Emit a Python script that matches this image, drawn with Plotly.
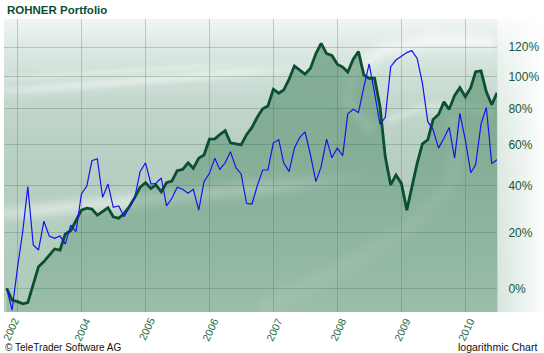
import numpy as np
import pandas as pd
import plotly.graph_objects as go

# ---------------- data ----------------
start_month = "2002-11-01"
n_months = 93
portfolio_pct = [
    0, -3.7,
    -4.2, -4.9, -4.5, 1.8, 7.4, 9.2, 11.6, 13.8, 13.4, 19.5, 20.8, 25.1,
    29.2, 30.0, 29.6, 27.1, 28.5, 30.2, 26.4, 25.8, 27.8, 30.7, 34.7, 39.2,
    41.3, 38.7, 40.3, 37.2, 41.3, 42.1, 47.0, 47.6, 50.8, 48.1, 53.1, 54.7,
    62.9, 63.1, 65.3, 67.5, 61.0, 60.4, 59.9, 65.3, 69.3, 75.0, 79.9, 81.6,
    91.8, 89.3, 91.3, 98.2, 106.9, 104.2, 101.5, 105.4, 115.5, 122.8, 115.5, 114.2,
    108.2, 106.2, 102.9, 111.5, 116.9, 100.9, 98.8, 98.8, 81.2, 53.8, 40.3, 44.9,
    41.0, 29.2, 38.7, 50.5, 60.4, 62.6, 73.7, 76.6, 84.0, 79.6, 88.0, 92.8,
    87.1, 92.8, 103.1, 103.7, 90.2, 82.3, 89.6,
]
benchmark_pct = [
    0, -6.8,
    7.0, 21.0, 39.5, 15.3, 13.4, 24.6, 18.7, 17.8, 18.7, 15.6, 23.0, 20.4,
    36.2, 39.8, 51.8, 52.8, 34.7, 40.7, 30.4, 31.0, 26.4, 30.7, 34.7, 46.5,
    50.8, 40.7, 41.0, 43.5, 31.0, 34.3, 39.2, 38.3, 36.5, 38.3, 29.2, 41.8,
    45.7, 53.1, 47.6, 50.8, 56.4, 48.4, 45.4, 32.1, 31.8, 39.8, 47.3, 47.3,
    61.0, 62.6, 50.8, 46.5, 58.2, 63.9, 66.8, 54.7, 41.8, 48.9, 62.9, 53.3,
    58.2, 54.4, 77.0, 79.6, 77.7, 93.3, 108.3, 89.3, 70.9, 75.0, 106.5, 111.0,
    113.9, 116.2, 117.6, 112.1, 95.6, 72.5, 68.1, 58.2, 63.4, 69.3, 53.1, 77.3,
    62.6, 46.0, 49.8, 71.3, 80.7, 50.5, 52.3,
]
y_tick_pct = [0, 20, 40, 60, 80, 100, 120]
y_tick_text = ["0%", "20%", "40%", "60%", "80%", "100%", "120%"]
grid_years = [2003, 2004, 2005, 2006, 2007, 2008, 2009, 2010]
x_label_text = ["2002", "2004", "2005", "2006", "2007", "2008", "2009", "2010"]

dates = pd.date_range(start_month, periods=n_months, freq="MS")
port = 1 + np.array(portfolio_pct) / 100.0
bench = 1 + np.array(benchmark_pct) / 100.0

# ---------------- decorative background ----------------
W, H = 544, 353
X0, X1, Y0, Y1 = 4, 544, 19, 312
PLOT_R = 497
nx, ny = 272, 148
u = np.linspace(0, 1, nx)
v = np.linspace(0, 1, ny)
PX = X0 + u[None, :] * (X1 - X0)
PY = Y1 - v[:, None] * (Y1 - Y0)
PX, PY = np.broadcast_arrays(PX, PY)
t = (PY - Y0) / (Y1 - Y0)
L = 0.36 + 0.56 * np.exp(-3.5 * t)


def band(xa, ya, xb, yb, sigma, strength):
    dx, dy = xb - xa, yb - ya
    ln = np.hypot(dx, dy)
    s = ((PX - xa) * dx + (PY - ya) * dy) / ln**2
    d = np.abs((PX - xa) * dy - (PY - ya) * dx) / ln
    fade = np.clip(np.minimum(s, 1 - s) * 4, 0, 1)
    return strength * np.exp(-(d / sigma) ** 2) * fade


def poly_band(pts, sigma, strength):
    pts = np.array(pts, dtype=float)
    dense = []
    for a, b in zip(pts[:-1], pts[1:]):
        for k in np.linspace(0, 1, 12, endpoint=False):
            dense.append(a + (b - a) * k)
    dense.append(pts[-1])
    dense = np.array(dense)
    dmin = np.full(PX.shape, 1e9)
    for p in dense:
        dmin = np.minimum(dmin, np.hypot(PX - p[0], PY - p[1]))
    return strength * np.exp(-(dmin / sigma) ** 2)


L = L + band(-80, 222, 380, 176, 9, 0.26)
L = L + band(-40, 94, 320, 66, 5, 0.16)
L = L + band(-40, 81, 260, 62, 3, 0.10)
L = L + poly_band([(487, 42), (430, 41), (382, 50), (350, 74), (346, 100), (368, 126)], 8, 0.14)
L = L + poly_band([(392, 118), (420, 107), (455, 104), (490, 112)], 5, 0.12)
L = L + poly_band([(268, 305), (340, 268), (408, 228), (448, 188), (458, 150), (452, 120)], 10, 0.10)
right = PX > PLOT_R
L = np.where(right, L + (1 - L) * (0.55 + 0.45 * (PX - PLOT_R) / (X1 - PLOT_R)), L)
L = np.clip(L, 0, 1)

bg_scale = [
    [0.0, "#8db59c"],
    [0.3, "#a9c8b4"],
    [0.5, "#bbd1c6"],
    [0.7, "#d6e4dd"],
    [0.9, "#eef4f1"],
    [1.0, "#ffffff"],
]

fig = go.Figure()
fig.add_trace(go.Heatmap(x=u, y=v, z=L, colorscale=bg_scale, zmin=0, zmax=1,
                         showscale=False, hoverinfo="skip", zsmooth="best",
                         xaxis="x", yaxis="y"))

# baseline for area fill (below visible range)
fig.add_trace(go.Scatter(x=dates, y=np.full(n_months, 0.8), mode="lines",
                         line=dict(width=0), showlegend=False, hoverinfo="skip",
                         xaxis="x2", yaxis="y2"))
fig.add_trace(go.Scatter(x=dates, y=port, mode="lines", fill="tonexty",
                         fillgradient=dict(type="vertical",
                                           colorscale=[[0, "rgba(35,110,65,0.10)"],
                                                       [1, "rgba(35,110,65,0.48)"]]),
                         line=dict(color="#0b4f33", width=2.8),
                         name="ROHNER Portfolio", showlegend=False,
                         xaxis="x2", yaxis="y2"))
fig.add_trace(go.Scatter(x=dates, y=bench, mode="lines",
                         line=dict(color="#1414f0", width=1.2),
                         name="Benchmark", showlegend=False,
                         xaxis="x2", yaxis="y2"))

grid_color = "rgba(80,125,100,0.33)"
x_range = ["2002-10-16", "2010-07-01"]
y_lo, y_hi = -0.03335, 0.3825

fig.update_layout(
    width=W, height=H,
    margin=dict(l=X0, r=W - X1, t=Y0, b=H - Y1),
    paper_bgcolor="white", plot_bgcolor="rgba(0,0,0,0)",
    showlegend=False,
    xaxis=dict(domain=[0, 1], range=[0, 1], visible=False, fixedrange=True),
    yaxis=dict(domain=[0, 1], range=[0, 1], visible=False, fixedrange=True),
    xaxis2=dict(domain=[0, (PLOT_R - X0) / (X1 - X0)], anchor="y2", type="date",
                range=x_range,
                tickvals=[f"{yr}-01-01" for yr in grid_years],
                showticklabels=False, ticks="",
                showgrid=True, gridcolor=grid_color, gridwidth=1,
                zeroline=False, showline=False),
    yaxis2=dict(domain=[0, 1], anchor="x2", side="right", type="log",
                range=[y_lo, y_hi],
                tickvals=[1 + p / 100 for p in y_tick_pct], ticktext=y_tick_text,
                ticks="outside", ticklen=8, tickcolor="rgba(0,0,0,0)",
                tickfont=dict(family="Liberation Sans, Arial", size=12, color="#15573b"),
                showgrid=True, gridcolor=grid_color, gridwidth=1,
                zeroline=False, showline=False),
)

# rotated year labels centred on their grid line
label_dates = [dates[0]] + [pd.Timestamp(f"{yr}-01-01") for yr in grid_years[1:]]
for i, (d, txt) in enumerate(zip(label_dates, x_label_text)):
    fig.add_annotation(x=d, xref="x2", y=(Y1 - 329) / (Y1 - Y0), yref="paper",
                       text=txt, showarrow=False, textangle=-65,
                       xanchor="center", yanchor="middle", xshift=4 if i == 0 else 1,
                       font=dict(family="Liberation Sans, Arial", size=10.5, color="#1d6a48"))

fig.add_annotation(x=(5 - X0) / (X1 - X0), y=(Y1 - 10) / (Y1 - Y0), xref="paper", yref="paper",
                   text="<b>ROHNER Portfolio</b>", showarrow=False, xanchor="left", yanchor="middle",
                   font=dict(family="Liberation Sans, Arial", size=11.5, color="#0b4d33"))
fig.add_annotation(x=(3 - X0) / (X1 - X0), y=(Y1 - 347) / (Y1 - Y0), xref="paper", yref="paper",
                   text="© TeleTrader Software AG", showarrow=False, xanchor="left", yanchor="middle",
                   font=dict(family="Liberation Sans, Arial", size=10, color="#111111"))
fig.add_annotation(x=(539 - X0) / (X1 - X0), y=(Y1 - 347) / (Y1 - Y0), xref="paper", yref="paper",
                   text="logarithmic Chart", showarrow=False, xanchor="right", yanchor="middle",
                   font=dict(family="Liberation Sans, Arial", size=10.5, color="#111111"))

fig.write_html("out.html")
